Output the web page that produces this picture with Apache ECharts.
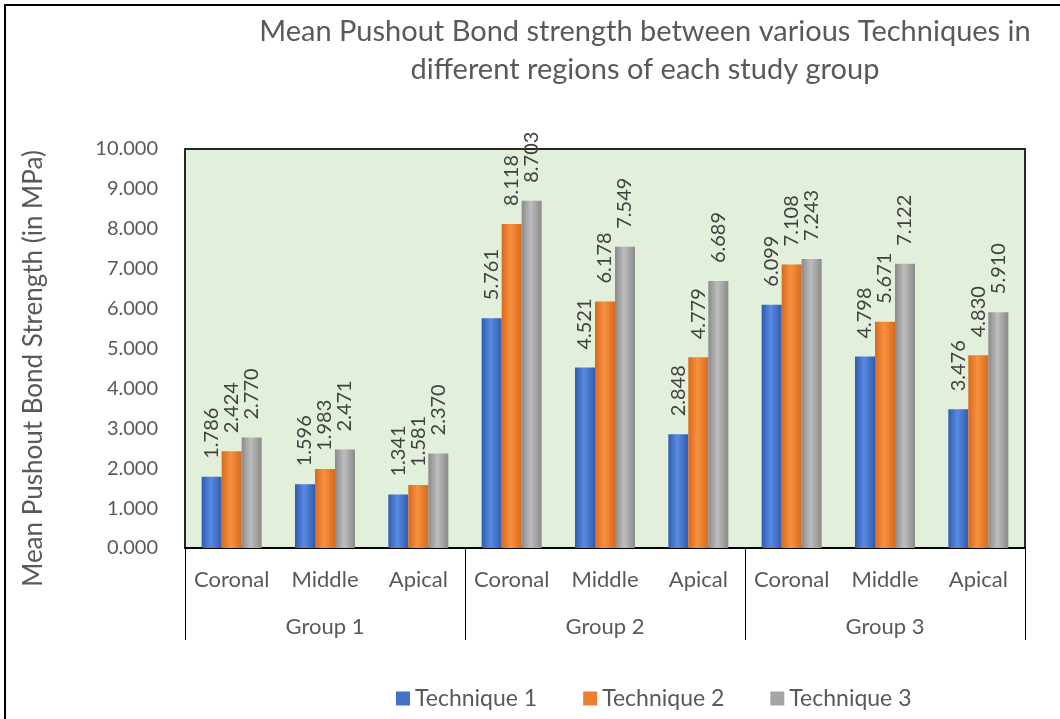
<!DOCTYPE html>
<html>
<head>
<meta charset="utf-8">
<script src="https://cdn.jsdelivr.net/npm/echarts@6/dist/echarts.min.js"></script>
<style>
  html, body { margin: 0; padding: 0; background: #fff; }
  #chart { width: 1060px; height: 719px; }
</style>
</head>
<body>
<div id="chart"></div>
<script>
const regions = ['Coronal', 'Middle', 'Apical', 'Coronal', 'Middle', 'Apical', 'Coronal', 'Middle', 'Apical'];
const groups = ['Group 1', 'Group 2', 'Group 3'];
const technique1 = [1.786, 1.596, 1.341, 5.761, 4.521, 2.848, 6.099, 4.798, 3.476];
const technique2 = [2.424, 1.983, 1.581, 8.118, 6.178, 4.779, 7.108, 5.671, 4.830];
const technique3 = [2.770, 2.471, 2.370, 8.703, 7.549, 6.689, 7.243, 7.122, 5.910];
const seriesNames = ['Technique 1', 'Technique 2', 'Technique 3'];
const yTicks = { min: 0, max: 10, interval: 1 };

const FONT = 'Lato';
const TXT = '#595959';

function grad(edge, mid) {
  return new echarts.graphic.LinearGradient(0, 0, 1, 0, [
    { offset: 0, color: edge },
    { offset: 0.45, color: mid },
    { offset: 1, color: edge }
  ]);
}
const fills = [
  grad('#2E5BAF', '#5A8BE2'),
  grad('#D9691D', '#F8913F'),
  grad('#8A8A8A', '#BDBDBD')
];
const legendColors = ['#4472C4', '#ED7D31', '#A5A5A5'];

function makeSeries(name, data, i) {
  return {
    name: name,
    type: 'bar',
    data: data,
    barWidth: 20,
    barGap: '0%',
    itemStyle: { color: fills[i] },
    label: {
      show: true,
      position: 'top',
      rotate: 90,
      align: 'left',
      verticalAlign: 'middle',
      distance: 18,
      fontFamily: FONT,
      fontSize: 20,
      color: '#404040',
      formatter: p => p.value.toFixed(3)
    }
  };
}

const chart = echarts.init(document.getElementById('chart'));
chart.setOption({
  animation: false,
  color: legendColors,
  title: {
    text: 'Mean Pushout Bond strength between various Techniques in\ndifferent regions of each study group',
    left: 640,
    top: 8,
    textAlign: 'center',
    textStyle: { fontFamily: FONT, fontSize: 29, fontWeight: 'normal', color: TXT, lineHeight: 38 }
  },
  legend: {
    data: seriesNames.map((n, i) => ({ name: n, itemStyle: { color: legendColors[i] } })),
    left: 391,
    top: 682,
    itemWidth: 14,
    itemHeight: 14,
    itemGap: 46,
    icon: 'rect',
    textStyle: { fontFamily: FONT, fontSize: 23, color: TXT }
  },
  grid: {
    left: 185,
    right: 35,
    top: 149,
    bottom: 171,
    show: true,
    backgroundColor: '#E2EFDA',
    borderColor: '#1F2B1F',
    borderWidth: 2
  },
  graphic: [{
    type: 'rect',
    shape: { x: 5, y: 5, width: 1200, height: 900 },
    style: { fill: 'none', stroke: '#000', lineWidth: 2 },
    silent: true
  }],
  xAxis: [{
    type: 'category',
    data: regions,
    position: 'bottom',
    axisLine: { show: true, lineStyle: { color: '#000', width: 2 } },
    axisTick: { show: false },
    axisLabel: { interval: 0, margin: 21, fontFamily: FONT, fontSize: 22, color: TXT },
    splitLine: { show: false }
  }, {
    type: 'category',
    data: groups,
    position: 'bottom',
    axisLine: { show: false },
    axisTick: { show: true, interval: 0, length: 92, lineStyle: { color: '#000', width: 1 } },
    axisLabel: { interval: 0, margin: 68, fontFamily: FONT, fontSize: 22, color: TXT },
    splitLine: { show: false }
  }],
  yAxis: {
    type: 'value',
    min: yTicks.min,
    max: yTicks.max,
    interval: yTicks.interval,
    name: 'Mean Pushout Bond Strength (in MPa)',
    nameLocation: 'middle',
    nameGap: 138,
    nameTextStyle: { fontFamily: FONT, fontSize: 26, color: TXT, padding: [0, 40, 0, 0] },
    axisLine: { show: false },
    axisTick: { show: false },
    splitLine: { show: false },
    axisLabel: { margin: 27, fontFamily: FONT, fontSize: 20, color: TXT, formatter: v => v.toFixed(3) }
  },
  series: [
    makeSeries(seriesNames[0], technique1, 0),
    makeSeries(seriesNames[1], technique2, 1),
    makeSeries(seriesNames[2], technique3, 2)
  ]
});
</script>
</body>
</html>
